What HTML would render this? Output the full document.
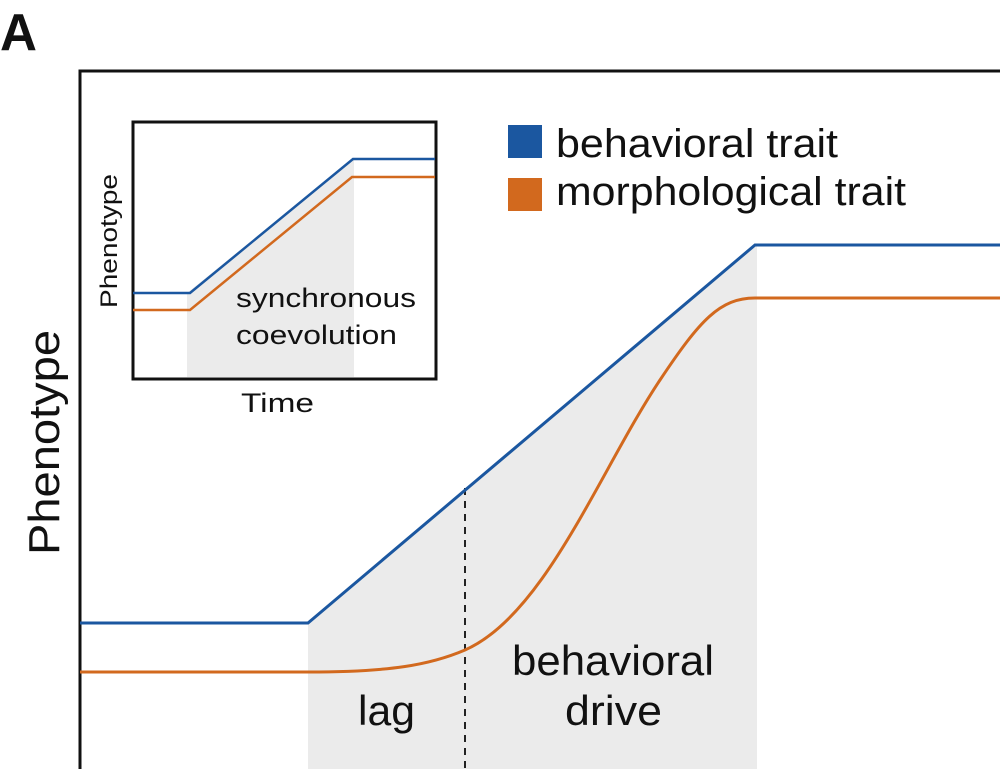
<!DOCTYPE html>
<html><head><style>
body{margin:0;width:1000px;height:769px;overflow:hidden;background:#fff}
svg text{font-family:"Liberation Sans",sans-serif;fill:#111}
</style></head><body>
<svg width="1000" height="769" viewBox="0 0 1000 769">
<text x="0" y="50" style="font-family:'Liberation Sans',sans-serif;font-weight:bold;font-size:52px" textLength="37" lengthAdjust="spacingAndGlyphs">A</text>
<polygon points="308,623 755,245 757,245 757,769 308,769" fill="#ebebeb"/>
<path d="M80,769 L80,71 L1000,71" fill="none" stroke="#111" stroke-width="3"/>
<line x1="465" y1="488" x2="465" y2="769" stroke="#222" stroke-width="2" stroke-dasharray="7,6"/>
<polyline points="80,623 308,623 755,245 1000,245" fill="none" stroke="#1b57a0" stroke-width="3"/>
<path d="M80,672 L308,672 C390,672 430,665 465,650 C545,615 600,470 660,380 C700,320 720,298 755,298 L1000,298" fill="none" stroke="#d2691e" stroke-width="3"/>
<text x="358" y="725" font-size="42" textLength="57" lengthAdjust="spacingAndGlyphs">lag</text>
<text x="512" y="675" font-size="42" textLength="202" lengthAdjust="spacingAndGlyphs">behavioral</text>
<text x="565" y="725" font-size="42" textLength="97" lengthAdjust="spacingAndGlyphs">drive</text>
<text transform="translate(59,555) rotate(-90)" font-size="44" textLength="225" lengthAdjust="spacingAndGlyphs">Phenotype</text>
<rect x="508" y="125" width="34" height="33" fill="#1b57a0"/>
<rect x="508" y="178" width="34" height="33" fill="#d2691e"/>
<text x="556" y="157" font-size="40" textLength="282" lengthAdjust="spacingAndGlyphs">behavioral trait</text>
<text x="556" y="205" font-size="40" textLength="350" lengthAdjust="spacingAndGlyphs">morphological trait</text>
<polygon points="187,293 353,159 354,159 354,377 187,377" fill="#ebebeb"/>
<rect x="133" y="122" width="303" height="257" fill="none" stroke="#111" stroke-width="3"/>
<polyline points="133,293 190,293 353,159 435,159" fill="none" stroke="#1b57a0" stroke-width="2.5"/>
<polyline points="133,310 190,310 352,177 435,177" fill="none" stroke="#d2691e" stroke-width="2.5"/>
<text x="236" y="307" font-size="27" textLength="180" lengthAdjust="spacingAndGlyphs">synchronous</text>
<text x="236" y="344" font-size="27" textLength="161" lengthAdjust="spacingAndGlyphs">coevolution</text>
<text x="241" y="412" font-size="27" textLength="73" lengthAdjust="spacingAndGlyphs">Time</text>
<text transform="translate(117,308) rotate(-90)" font-size="24" textLength="134" lengthAdjust="spacingAndGlyphs">Phenotype</text>
</svg>
</body></html>
